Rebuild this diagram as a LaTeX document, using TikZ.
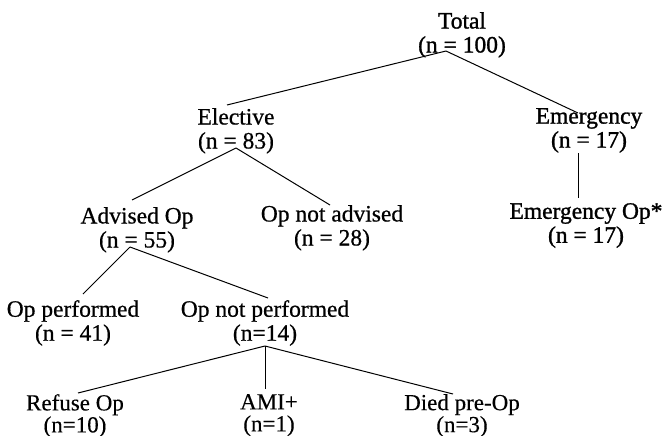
\documentclass[tikz,border=0pt]{standalone}
\usepackage{fontspec}
\setmainfont{Liberation Serif}
\newfontfamily\heavyserif[FakeBold=1.2]{Liberation Serif}
\newfontfamily\midserif[FakeBold=0.6]{Liberation Serif}
\newfontfamily\lightserif[FakeBold=0.3]{Liberation Serif}
\usetikzlibrary{calc}
\begin{document}
\begin{tikzpicture}[x=1pt,y=-1pt,
  lbl/.style={anchor=north,align=center,inner sep=0pt,font=\fontsize{23.5}{24}\selectfont\midserif},
  hlbl/.style={lbl,font=\fontsize{23.5}{24}\selectfont\heavyserif},
  llbl/.style={lbl,font=\fontsize{23}{22}\selectfont\lightserif},
  conn/.style={line width=1pt}]
\useasboundingbox[fill=white] (0,0) rectangle (667,436);
\node[hlbl] (total) at (462,12) {Total\\(n = 100)};
\node[lbl] (elective) at (236,108) {Elective\\(n = 83)};
\node[hlbl] (emergency) at (589,108) {Emergency\\(n = 17)};
\node[lbl] (advised) at (137,207) {Advised Op\\(n = 55)};
\node[lbl] (notadv) at (332,205) {Op not advised\\(n = 28)};
\node[hlbl] (emop) at (586,203) {Emergency Op*\\(n = 17)};
\node[lbl] (perf) at (73,300) {Op performed\\(n = 41)};
\node[lbl] (notperf) at (265,300) {Op not performed\\(n=14)};
\node[llbl] (refuse) at (75,394) {Refuse Op\\(n=10)};
\node[llbl] (ami) at (269,394) {AMI+\\(n=1)};
\node[llbl] (died) at (462,394) {Died pre-Op\\(n=3)};
\draw[conn] ($(total.north)+(-16,39)$) -- ($(elective.north)+(-9,-3)$);
\draw[conn] ($(total.north)+(-16,39)$) -- ($(emergency.north)+(-11,5)$);
\draw[conn] ($(elective.north)+(0,40)$) -- ($(advised.north)+(-5,-7)$);
\draw[conn] ($(elective.north)+(0,40)$) -- ($(notadv.north)+(-2,0)$);
\draw[conn] ($(emergency.north)+(-11,45)$) -- ($(emop.north)+(-8,-5)$);
\draw[conn] ($(advised.north)+(-7,40)$) -- ($(perf.north)+(10,-6)$);
\draw[conn] ($(advised.north)+(-7,40)$) -- ($(notperf.north)+(3,-2)$);
\draw[conn] ($(notperf.north)+(0,46)$) -- ($(refuse.north)+(3,-1)$);
\draw[conn] ($(notperf.north)+(0,46)$) -- ($(ami.north)+(-4,-5)$);
\draw[conn] ($(notperf.north)+(0,46)$) -- ($(died.north)+(-9,0)$);
\end{tikzpicture}
\end{document}
